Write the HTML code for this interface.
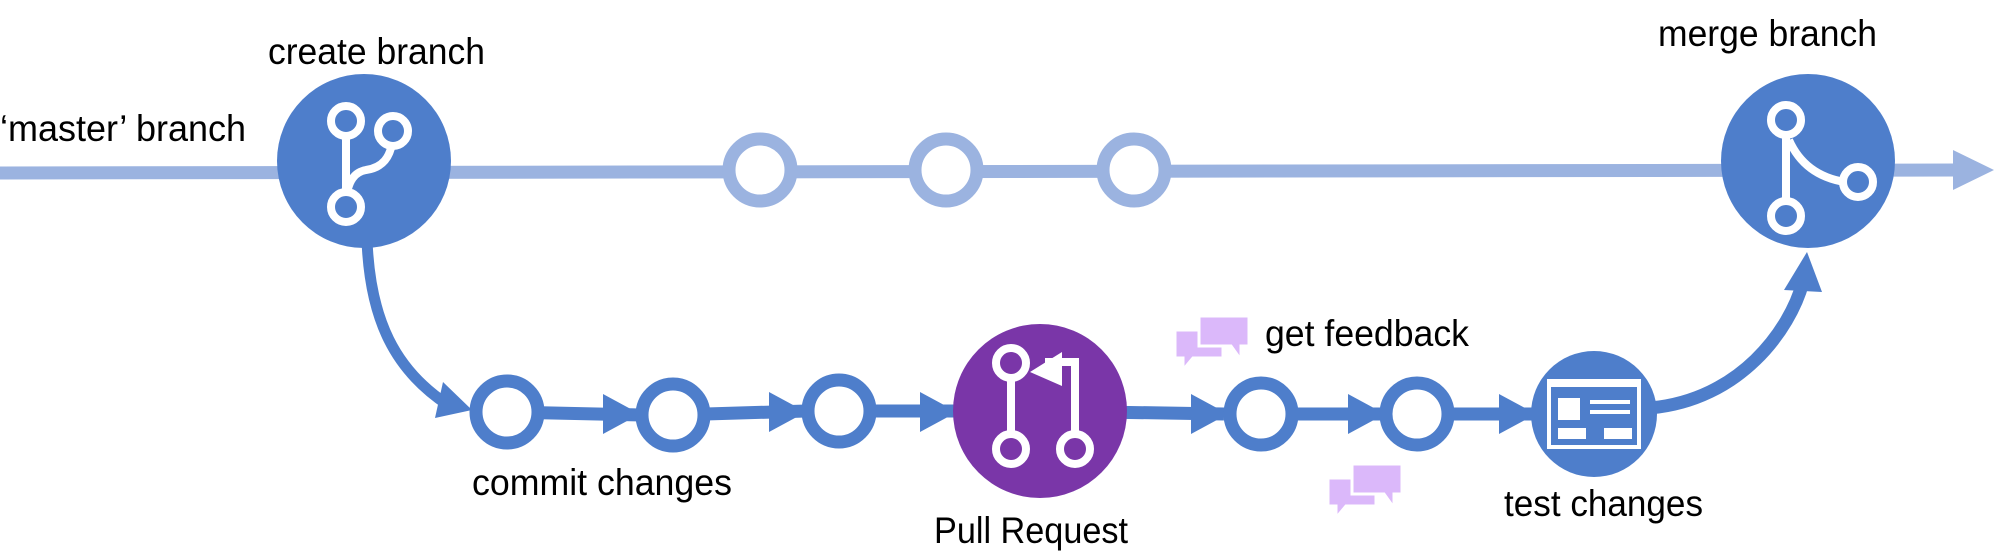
<!DOCTYPE html>
<html><head><meta charset="utf-8"><style>
html,body{margin:0;padding:0;background:#fff;}
svg{display:block}
text{font-family:"Liberation Sans",sans-serif;font-size:37px;fill:#000}
</style></head><body>
<svg width="2000" height="559" viewBox="0 0 2000 559" xmlns="http://www.w3.org/2000/svg">
<line x1="0" y1="173" x2="1960" y2="170" stroke="#9bb3e0" stroke-width="13"/>
<polygon points="1953,150 1994,170 1953,190" fill="#9bb3e0"/>
<g fill="#fff" stroke="#9bb3e0" stroke-width="13">
<circle cx="760" cy="170" r="31"/>
<circle cx="946" cy="170" r="31"/>
<circle cx="1134" cy="170" r="31"/>
</g>
<path d="M367,240 C370,320 395,370 448,405" fill="none" stroke="#4e7ecb" stroke-width="11"/>
<polygon points="443,382 472,410 435,418" fill="#4e7ecb"/>
<g stroke="#4e7ecb" stroke-width="13" fill="none">
<path d="M507,412 L640,415"/>
<path d="M673,415 L806,411"/>
<path d="M839,411 L960,411"/>
<path d="M1040,411 L1224,414"/>
<path d="M1261,414 L1382,414"/>
<path d="M1417,414 L1540,414"/>
<path d="M1650,408 C1740,400 1790,330 1803,282"/>
</g>
<g fill="#4e7ecb">
<polygon points="603,394 640,414 603,434"/>
<polygon points="769,392 806,412 769,432"/>
<polygon points="920,392 957,412 920,432"/>
<polygon points="1191,394 1228,414 1191,434"/>
<polygon points="1348,394 1385,414 1348,434"/>
<polygon points="1499,394 1536,414 1499,434"/>
<polygon points="1807,252 1784,290 1822,292"/>
</g>
<g fill="#fff" stroke="#4e7ecb" stroke-width="13">
<circle cx="507" cy="412" r="31"/>
<circle cx="673" cy="415" r="31"/>
<circle cx="839" cy="411" r="31"/>
<circle cx="1261" cy="414" r="31"/>
<circle cx="1417" cy="414" r="31"/>
</g>
<circle cx="364" cy="161" r="87" fill="#4e7ecb"/>
<g stroke="#fff" stroke-width="8" fill="#4e7ecb">
<line x1="346" y1="121" x2="346" y2="207"/>
<path d="M393,131 C393,160 380,168 366,170 C355,172 348,180 346,200" fill="none"/>
<circle cx="346" cy="121" r="15"/>
<circle cx="393" cy="131" r="15"/>
<circle cx="346" cy="207" r="15"/>
</g>
<circle cx="1808" cy="161" r="87" fill="#4e7ecb"/>
<g stroke="#fff" stroke-width="8" fill="#4e7ecb">
<line x1="1786" y1="120" x2="1786" y2="216"/>
<path d="M1789,140 C1800,165 1820,178 1845,182" fill="none"/>
<circle cx="1786" cy="120" r="15"/>
<circle cx="1858" cy="182" r="15"/>
<circle cx="1786" cy="216" r="15"/>
</g>
<circle cx="1040" cy="411" r="87" fill="#7a36a8"/>
<g stroke="#fff" stroke-width="8" fill="#7a36a8">
<line x1="1011" y1="363" x2="1011" y2="449"/>
<path d="M1075,449 L1075,362 L1045,362" fill="none"/>
<circle cx="1011" cy="363" r="15"/>
<circle cx="1011" cy="449" r="15"/>
<circle cx="1075" cy="449" r="15"/>
</g>
<polygon points="1030,372 1062,352 1062,386" fill="#fff"/>
<circle cx="1594" cy="414" r="63" fill="#4e7ecb"/>
<rect x="1549" y="381" width="90" height="66" fill="none" stroke="#fff" stroke-width="4"/>
<rect x="1549" y="381" width="90" height="6" fill="#fff"/>
<g fill="#fff">
<rect x="1558" y="398" width="22" height="22"/>
<rect x="1590" y="400" width="40" height="4"/>
<rect x="1590" y="410" width="40" height="4"/>
<rect x="1558" y="428" width="28" height="11"/>
<rect x="1604" y="428" width="28" height="11"/>
</g>
<g fill="#dbb8fa" stroke="#fff" stroke-width="3">
<path d="M1175,330 h48 v28 h-30 l-10,12 v-12 h-8 z"/>
<path d="M1199,316 h50 v30 h-8 v14 l-10,-14 h-32 z"/>
<path d="M1328,478 h48 v28 h-30 l-10,12 v-12 h-8 z"/>
<path d="M1352,464 h50 v30 h-8 v14 l-10,-14 h-32 z"/>
</g>
<text x="268" y="64" textLength="217" lengthAdjust="spacingAndGlyphs">create branch</text>
<text x="0" y="141" textLength="246" lengthAdjust="spacingAndGlyphs">‘master’ branch</text>
<text x="1658" y="46" textLength="219" lengthAdjust="spacingAndGlyphs">merge branch</text>
<text x="472" y="495" textLength="260" lengthAdjust="spacingAndGlyphs">commit changes</text>
<text x="934" y="543" textLength="194" lengthAdjust="spacingAndGlyphs">Pull Request</text>
<text x="1265" y="346" textLength="204" lengthAdjust="spacingAndGlyphs">get feedback</text>
<text x="1504" y="516" textLength="199" lengthAdjust="spacingAndGlyphs">test changes</text>
</svg>
</body></html>
